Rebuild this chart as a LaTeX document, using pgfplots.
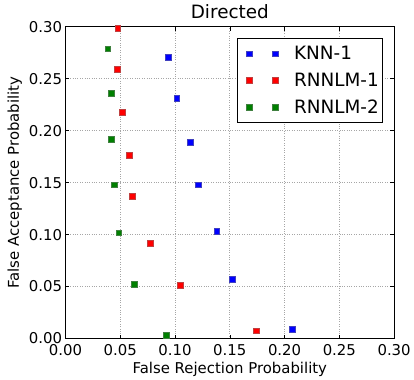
\documentclass[border=0pt]{standalone}
\usepackage{pgfplots}
\pgfplotsset{compat=1.18}
\usetikzlibrary{calc}
\usepackage{fontspec}
\setmainfont{DejaVu Sans}
\definecolor{mplgreen}{rgb}{0,0.5,0}
\begin{document}
\begin{tikzpicture}
\begin{axis}[
  scale only axis,
  width=331pt, height=314pt,
  xmin=0, xmax=0.30, ymin=0, ymax=0.30,
  xtick={0,0.05,...,0.30}, ytick={0,0.05,...,0.30},
  /pgf/number format/assume math mode=true,
  xticklabel style={yshift=-2pt, /pgf/number format/.cd, fixed, fixed zerofill, precision=2},
  yticklabel style={/pgf/number format/.cd, fixed, fixed zerofill, precision=2},
  scaled ticks=false,
  tick label style={font=\fontsize{15}{18}\selectfont},
  label style={font=\fontsize{15}{18}\selectfont},
  title style={font=\fontsize{18.5}{22}\selectfont, yshift=-1pt},
  title={Directed},
  xlabel={False Rejection Probability},
  ylabel={False Acceptance Probability},
  xlabel style={yshift=0pt},
  ylabel style={yshift=0pt},
  grid=major,
  major grid style={dotted, gray!70, line width=0.7pt},
  tick align=inside,
  major tick length=4pt,
  axis line style={line width=0.9pt},
  every tick/.style={black, line width=0.6pt},
  legend cell align=left,
  legend image code/.code={\path[draw=none,fill=none] (-9pt,0pt) -- (44pt,0pt);
    \draw[#1] plot coordinates {(0pt,0pt)};
    \draw[#1] plot coordinates {(26pt,0pt)};},
  legend style={at={(rel axis cs:1,1)}, anchor=north east, xshift=-11pt, yshift=-11pt,
    font=\fontsize{18.5}{22}\selectfont, draw=black, line width=0.9pt,
    row sep=10pt, inner xsep=3pt, inner ysep=7pt,
    nodes={inner sep=1pt}},
  every axis plot/.append style={only marks, mark=square*, mark size=2.9pt, line width=0.3pt},
]
\addplot[color=blue, mark options={fill=blue, draw=blue!50!gray}] coordinates {
(0.094,0.271) (0.1015,0.231) (0.114,0.189) (0.1208,0.148) (0.138,0.103) (0.152,0.057) (0.207,0.009)};
\addlegendentry{KNN-1}
\addplot[color=red, mark options={fill=red, draw=red!50!gray}] coordinates {
(0.0476,0.2987) (0.0473,0.2595) (0.052,0.218) (0.0579,0.1767) (0.0611,0.1369) (0.0774,0.0917) (0.1049,0.0516) (0.1739,0.0076)};
\addlegendentry{RNNLM-1}
\addplot[color=mplgreen, mark options={fill=mplgreen, draw=mplgreen!50!gray}] coordinates {
(0.0385,0.2789) (0.0416,0.2362) (0.0416,0.192) (0.0446,0.148) (0.0485,0.1019) (0.0624,0.0522) (0.0922,0.0032)};
\addlegendentry{RNNLM-2}
\end{axis}
\path ($(current axis.south west)+(-66pt,-38pt)$) rectangle ($(current axis.north east)+(17pt,27pt)$);
\end{tikzpicture}
\end{document}
